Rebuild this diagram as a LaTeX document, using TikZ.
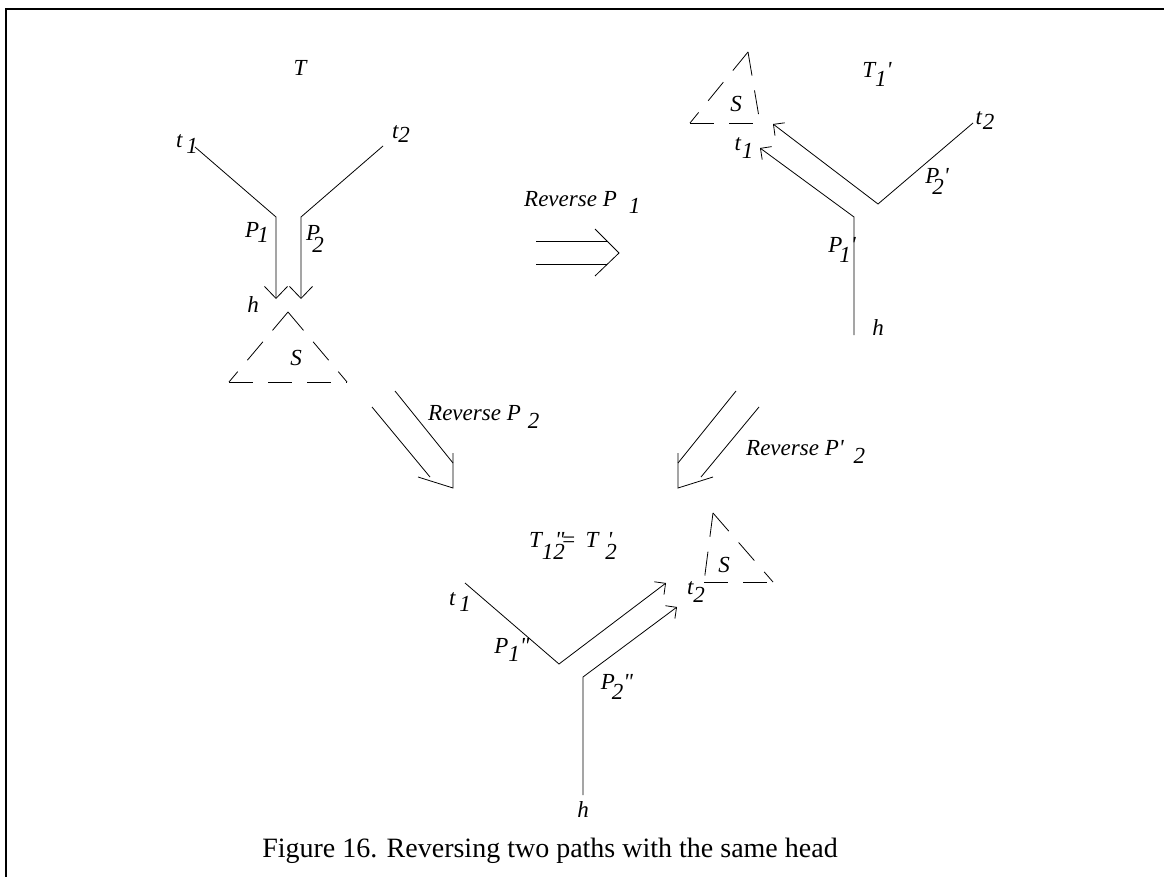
\documentclass[tikz,border=0pt]{standalone}
\usepackage{fontspec}
\setmainfont{Liberation Serif}
\usetikzlibrary{arrows.meta, calc}
\newcommand{\pr}{\textquotesingle}
\newcommand{\ppr}{\textquotedbl}
\newcommand{\dn}[2]{\raisebox{-#1}{#2}}

\begin{document}
\begin{tikzpicture}[
    x=1pt, y=-1pt,
    every node/.style={font=\fontsize{23}{23}\selectfont\itshape, inner sep=0pt},
    edgeline/.style={line width=0.8pt, line join=miter},
    bigtip/.style={-{Straight Barb[length=12pt, width=23pt]}},
    smalltip/.style={-{Straight Barb[length=8pt, width=16pt]}},
    subtree/.style={line width=0.8pt, dash pattern=on 24pt off 15pt},
    caption/.style={font=\fontsize{28}{28}\selectfont\upshape},
  ]
  \useasboundingbox (0,0) rectangle (1164,877);
  % Frame
  \draw[line width=1.4pt] (6,877) -- (6,9) -- (1164,9);

  % Tree T
  \coordinate (a1) at (195,147);
  \coordinate (a2) at (276,217);
  \coordinate (a3) at (276,299);
  \coordinate (b1) at (383,146);
  \coordinate (b2) at (301,217);
  \coordinate (b3) at (301,299);
  \draw[edgeline, bigtip] (a1) -- (a2) -- (a3);
  \draw[edgeline, bigtip] (b1) -- (b2) -- (b3);
  \coordinate (sa) at (288,312);
  \coordinate (sl) at (229,382);
  \coordinate (sr) at (347,382);
  \draw[subtree] (sa) -- (sl);
  \draw[subtree] (sa) -- (sr);
  \draw[subtree] (sl) -- (sr);
  \node (tT)  at (300,68)  {T};
  \node (tt1) at (187,144) {t\kern4pt\dn{6pt}{1}};
  \node (tt2) at (401,134) {t\dn{4pt}{2}};
  \node (tP1) at (257,232) {P\kern-2pt\dn{5pt}{1}};
  \node (tP2) at (315,239) {P\kern-8pt\dn{12pt}{2}};
  \node (th)  at (253,305) {h};
  \node (tS)  at (296,358) {S};

  % Tree T1'
  \coordinate (c1) at (854,335);
  \coordinate (c2) at (854,217);
  \coordinate (c3) at (760,148);
  \coordinate (d1) at (973,123);
  \coordinate (d2) at (878,204);
  \coordinate (d3) at (773,124);
  \draw[edgeline, smalltip] (c1) -- (c2) -- (c3);
  \draw[edgeline, smalltip] (d1) -- (d2) -- (d3);
  \coordinate (ua) at (748,52);
  \coordinate (ul) at (690,123);
  \coordinate (ur) at (760,123);
  \draw[subtree] (ua) -- (ul);
  \draw[subtree] (ua) -- (ur);
  \draw[subtree] (ul) -- (ur);
  \node (uT)  at (877,74)  {T\dn{9pt}{1}\pr};
  \node (ut1) at (744,148) {t\kern1pt\dn{8pt}{1}};
  \node (ut2) at (985,121) {t\kern1pt\dn{5pt}{2}};
  \node (uP2) at (937,181) {P\kern-7pt\dn{11pt}{2}\pr};
  \node (uP1) at (842,250) {P\kern-3pt\dn{10pt}{1}\pr};
  \node (uh)  at (878,328) {h};
  \node (uS)  at (736,104) {S};

  % Tree T''12 = T'2
  \coordinate (e1) at (465,583);
  \coordinate (e2) at (559,664);
  \coordinate (e3) at (666,583);
  \coordinate (f1) at (583,795);
  \coordinate (f2) at (583,677);
  \coordinate (f3) at (677,607);
  \draw[edgeline, smalltip] (e1) -- (e2) -- (e3);
  \draw[edgeline, smalltip] (f1) -- (f2) -- (f3);
  \coordinate (va) at (713,513);
  \coordinate (vl) at (704,582);
  \coordinate (vr) at (773,582);
  \draw[subtree] (va) -- (vl);
  \draw[subtree] (va) -- (vr);
  \draw[subtree] (vl) -- (vr);
  \node[anchor=base west] (vT) at (529,547)
    {T\rlap{\kern13pt\ppr}\dn{12pt}{12}\kern-4pt=\kern9pt T\rlap{\kern9pt\pr}\kern7pt\dn{12pt}{2}};
  \node (vt1) at (460,602) {t\kern4pt\dn{6pt}{1}};
  \node (vt2) at (696,592) {t\dn{8pt}{2}};
  \node (vP1) at (512,650) {P\dn{8pt}{1}\ppr};
  \node (vP2) at (617,687) {P\kern-3pt\dn{10pt}{2}\ppr};
  \node (vh)  at (583,810) {h};
  \node (vS)  at (724,565) {S};

  % Big arrows
  \draw[edgeline] (536,241) -- (607,241);
  \draw[edgeline] (536,264) -- (607,264);
  \draw[edgeline] (595,229) -- (619,253) -- (595,276);
  \node[anchor=base west] (r1) at (524,207) {Reverse P\kern12pt\dn{7pt}{1}};

  \draw[edgeline] (395,391) -- (453,463);
  \draw[edgeline] (372,407) -- (430,477);
  \draw[edgeline] (453,453) -- (453,488) -- (418,477);
  \node[anchor=base west] (r2) at (428,420) {Reverse P\kern7pt\dn{8pt}{2}};

  \draw[edgeline] (736,391) -- (678,463);
  \draw[edgeline] (759,407) -- (701,477);
  \draw[edgeline] (678,453) -- (678,488) -- (713,477);
  \node[anchor=base west] (r3) at (746,455) {Reverse P\pr\kern10pt\dn{8pt}{2}};

  % Caption
  \node[caption] (cap) at (550,851) {Figure 16. Reversing two paths with the same head};
\end{tikzpicture}
\end{document}
